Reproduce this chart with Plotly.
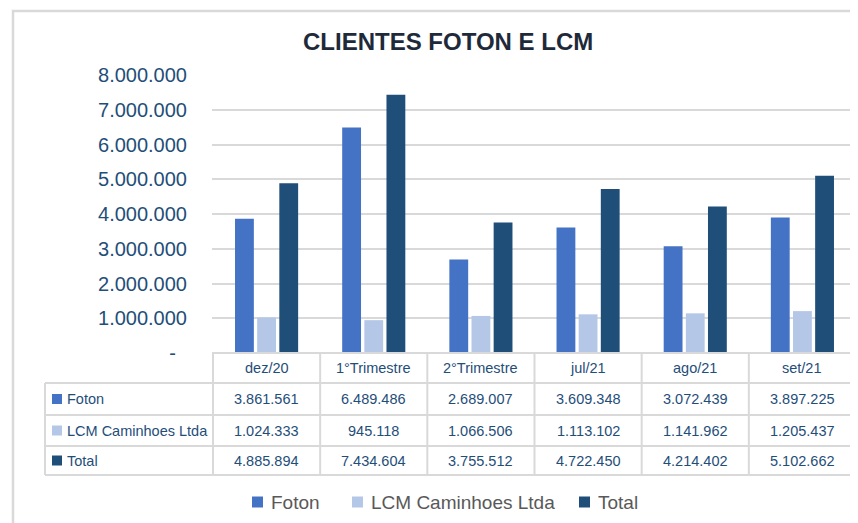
import plotly.graph_objects as go

categories = ["dez/20", "1°Trimestre", "2°Trimestre", "jul/21", "ago/21", "set/21"]
foton = [3861561, 6489486, 2689007, 3609348, 3072439, 3897225]
lcm = [1024333, 945118, 1066506, 1113102, 1141962, 1205437]
total = [4885894, 7434604, 3755512, 4722450, 4214402, 5102662]
series_names = ["Foton", "LCM Caminhoes Ltda", "Total"]
series_values = [foton, lcm, total]
series_colors = ["#4472C4", "#B4C7E7", "#1F4E79"]
ytick_vals = [0, 1000000, 2000000, 3000000, 4000000, 5000000, 6000000, 7000000, 8000000]
ytick_text = ["-\u00a0\u00a0", "1.000.000", "2.000.000", "3.000.000", "4.000.000",
              "5.000.000", "6.000.000", "7.000.000", "8.000.000"]
title_text = "CLIENTES FOTON E LCM"

W, H = 858, 523
OFF = 8  # page body margin offset in the browser
FONT = "Liberation Sans, Arial, sans-serif"
NAVY = "#1F4E79"
GRID = "#D9D9D9"


def px(x):
    return (x - OFF) / W


def py(y):
    return 1 - (y - OFF) / H


def fmt(v):
    return f"{v:,}".replace(",", ".")


fig = go.Figure()
for name, vals, col in zip(series_names, series_values, series_colors):
    fig.add_trace(go.Bar(x=categories, y=vals, name=name, marker_color=col,
                         marker_line_width=0, showlegend=False))

PLOT_L, PLOT_R, PLOT_T, PLOT_B = 212, 857, 75, 353
fig.update_layout(
    template="none",
    width=W, height=H,
    margin=dict(l=0, r=0, t=0, b=0, pad=0, autoexpand=False),
    paper_bgcolor="white", plot_bgcolor="white",
    showlegend=False,
    barmode="group", bargap=0.38, bargroupgap=0.15,
    font=dict(family=FONT, color=NAVY),
    xaxis=dict(domain=[px(PLOT_L), px(PLOT_R)], showticklabels=False, ticks="",
               showgrid=False, zeroline=False, showline=False, fixedrange=True,
               automargin=False),
    yaxis=dict(domain=[py(PLOT_B), py(PLOT_T)], range=[0, 8000000],
               tickvals=ytick_vals, ticktext=ytick_text,
               tickfont=dict(size=20, color=NAVY, family=FONT),
               showgrid=True, gridcolor=GRID, gridwidth=2,
               zeroline=False, showline=False, ticks="", ticklabelstandoff=24,
               automargin=False, fixedrange=True),
)

shapes = []
line = dict(color=GRID, width=2)
# outer chart border
shapes.append(dict(type="rect", xref="paper", yref="paper", x0=px(13), x1=px(890),
                   y0=py(560), y1=py(11), line=dict(color=GRID, width=2.5)))
# table horizontal lines
shapes.append(dict(type="line", xref="paper", yref="paper", x0=px(PLOT_L), x1=px(PLOT_R),
                   y0=py(353), y1=py(353), line=line))
for yy in [383, 415, 446, 475]:
    shapes.append(dict(type="line", xref="paper", yref="paper", x0=px(45), x1=px(PLOT_R),
                       y0=py(yy), y1=py(yy), line=line))
# left border of label column
shapes.append(dict(type="line", xref="paper", yref="paper", x0=px(45), x1=px(45),
                   y0=py(383), y1=py(475), line=line))
# vertical lines at category boundaries
for i in range(len(categories) + 1):
    shapes.append(dict(type="line", xref="x", yref="paper", x0=i - 0.5, x1=i - 0.5,
                       y0=py(353), y1=py(475), line=line))

annotations = []
annotations.append(dict(text="<b>" + title_text + "</b>", xref="paper", yref="paper",
                        x=px(448), y=py(42), xanchor="center", yanchor="middle",
                        showarrow=False, font=dict(size=24, color="#1e2a3a", family=FONT)))
# header row
for c in categories:
    annotations.append(dict(text=c, xref="x", yref="paper", x=c, y=py(368),
                            xanchor="center", yanchor="middle", showarrow=False,
                            font=dict(size=14.5, color=NAVY, family=FONT)))
row_centers = [399, 430.5, 460.5]
for name, vals, col, yc in zip(series_names, series_values, series_colors, row_centers):
    shapes.append(dict(type="rect", xref="paper", yref="paper", x0=px(52), x1=px(62),
                       y0=py(yc + 5), y1=py(yc - 5), fillcolor=col, line=dict(width=0)))
    annotations.append(dict(text=name, xref="paper", yref="paper", x=px(65), y=py(yc),
                            xanchor="left", yanchor="middle", showarrow=False,
                            font=dict(size=14.5, color=NAVY, family=FONT)))
    for c, v in zip(categories, vals):
        annotations.append(dict(text=fmt(v), xref="x", yref="paper", x=c, y=py(yc),
                                xanchor="center", yanchor="middle", showarrow=False,
                                font=dict(size=14.5, color=NAVY, family=FONT)))

# legend
legend_pos = [252, 352, 579]
for name, col, lx in zip(series_names, series_colors, legend_pos):
    shapes.append(dict(type="rect", xref="paper", yref="paper", x0=px(lx), x1=px(lx + 11),
                       y0=py(507.5), y1=py(496.5), fillcolor=col, line=dict(width=0)))
    annotations.append(dict(text=name, xref="paper", yref="paper", x=px(lx + 17), y=py(502),
                            xanchor="left", yanchor="middle", showarrow=False,
                            font=dict(size=19, color="#595959", family=FONT)))

fig.update_layout(shapes=shapes, annotations=annotations)
fig.write_html("out.html")
